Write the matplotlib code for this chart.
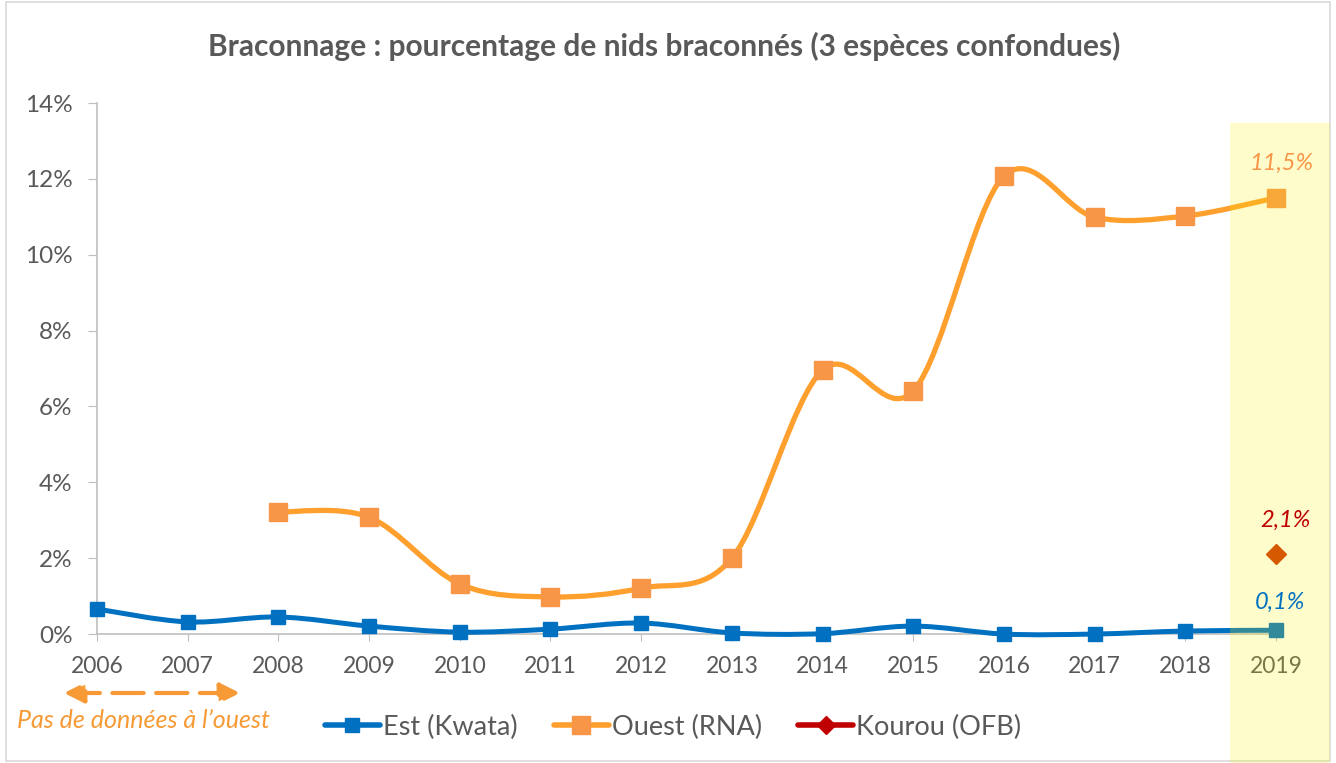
import numpy as np
import matplotlib
matplotlib.use('Agg')
import matplotlib.pyplot as plt
from matplotlib.path import Path
from matplotlib.patches import PathPatch, Rectangle, FancyArrowPatch
from matplotlib.lines import Line2D

plt.rcParams['font.family'] = ['Lato', 'DejaVu Sans']

# données (%)
annees = list(range(2006, 2020))
est_kwata = [0.66, 0.32, 0.45, 0.21, 0.05, 0.13, 0.29, 0.03, 0.01, 0.21, 0.0, 0.0, 0.08, 0.1]
annees_ouest = list(range(2008, 2020))
ouest_rna = [3.22, 3.08, 1.32, 0.98, 1.21, 2.0, 6.96, 6.41, 12.07, 10.99, 11.02, 11.5]
annee_kourou = [2019]
kourou_ofb = [2.1]

gris = '#595959'
bleu = '#0070C0'
orange_ligne = '#FF9F2E'
orange_marq = '#F79646'
rouge = '#C00000'


def courbe_lissee(xs, ys):
    # lissage type Excel (Bezier à partir de Catmull-Rom)
    pts = np.column_stack([xs, ys]).astype(float)
    n = len(pts)
    verts = [pts[0]]
    codes = [Path.MOVETO]
    for i in range(n - 1):
        p0 = pts[i - 1] if i > 0 else pts[i]
        p1 = pts[i]
        p2 = pts[i + 1]
        p3 = pts[i + 2] if i + 2 < n else pts[i + 1]
        c1 = p1 + (p2 - p0) / 6
        c2 = p2 - (p3 - p1) / 6
        verts += [c1, c2, p2]
        codes += [Path.CURVE4] * 3
    return Path(verts, codes)


fig = plt.figure(figsize=(13.36, 7.63), dpi=100)
ax = fig.add_axes([0.0726, 0.169, 0.8825, 0.696])

ax.add_patch(PathPatch(courbe_lissee(annees, est_kwata), fill=False, edgecolor=bleu,
                       lw=3.6, capstyle='round', joinstyle='round', zorder=3, clip_on=False))
ax.plot(annees, est_kwata, ls='none', marker='s', ms=10, color=bleu, zorder=4, clip_on=False)

ax.add_patch(PathPatch(courbe_lissee(annees_ouest, ouest_rna), fill=False, edgecolor=orange_ligne,
                       lw=3.8, capstyle='round', joinstyle='round', zorder=3, clip_on=False))
ax.plot(annees_ouest, ouest_rna, ls='none', marker='s', ms=13, color=orange_marq, zorder=4, clip_on=False)

ax.plot(annee_kourou, kourou_ofb, ls='none', marker='D', ms=10, color='#CC3300', zorder=4, clip_on=False)

ax.set_xlim(2006, 2019)
ax.set_ylim(0, 14)
ax.set_xticks(annees)
ax.set_yticks(range(0, 15, 2))
ax.set_yticklabels([f'{v}%' for v in range(0, 15, 2)])
ax.tick_params(axis='both', colors='#BFBFBF', labelcolor=gris)
ax.tick_params(axis='x', length=5, pad=11, labelsize=16.5)
ax.tick_params(axis='y', length=6.5, pad=11, labelsize=17.5)
for side in ['top', 'right']:
    ax.spines[side].set_visible(False)
for side in ['left', 'bottom']:
    ax.spines[side].set_color('#BFBFBF')
    ax.spines[side].set_linewidth(1.2)

# étiquettes de données 2019 (au-dessus de la zone surlignée)
fig.text(annees_ouest[-1] + 0.066, ouest_rna[-1] + 0.92, '11,5%', color=orange_marq, style='italic',
         fontsize=17, ha='center', va='center', transform=ax.transData, zorder=11)
fig.text(annee_kourou[0] + 0.1, kourou_ofb[0] + 0.9, '2,1%', color=rouge, style='italic',
         fontsize=17, ha='center', va='center', transform=ax.transData, zorder=11)
fig.text(annees[-1] + 0.045, est_kwata[-1] + 0.74, '0,1%', color=bleu, style='italic',
         fontsize=17, ha='center', va='center', transform=ax.transData, zorder=11)

fig.text(0.497, 1 - 46 / 763, 'Braconnage : pourcentage de nids braconnés (3 espèces confondues)',
         ha='center', va='center', fontsize=21.5, fontweight='bold', color=gris)

# zone 2019 surlignée
fig.add_artist(Rectangle((1230 / 1336, 0), 100 / 1336, 1 - 123 / 763, transform=fig.transFigure,
                         facecolor='#FFF200', alpha=0.2, edgecolor='none', zorder=10))

# flèche en pointillés + note
fig.add_artist(FancyArrowPatch((64 / 1336, 1 - 693 / 763), (240 / 1336, 1 - 693 / 763),
                               transform=fig.transFigure, arrowstyle='<|-|>,head_length=12,head_width=6',
                               linestyle=(0, (7.5, 3)), color='#F79A35', lw=3, mutation_scale=1,
                               shrinkA=0, shrinkB=0))
fig.text(17 / 1336, 1 - 720 / 763, 'Pas de données à l’ouest', color='#F79A35', style='italic',
         fontsize=18, ha='left', va='center')

poignees = [
    Line2D([], [], color=bleu, lw=4, marker='s', ms=10, solid_capstyle='round'),
    Line2D([], [], color=orange_ligne, lw=4, marker='s', ms=13, markerfacecolor=orange_marq,
           markeredgecolor=orange_marq, solid_capstyle='round'),
    Line2D([], [], color=rouge, lw=4, marker='D', ms=9, solid_capstyle='round'),
]
fig.legend(poignees, ['Est (Kwata)', 'Ouest (RNA)', 'Kourou (OFB)'], loc='center',
           bbox_to_anchor=(673 / 1336, 1 - 727 / 763), ncol=3, frameon=False, fontsize=19.5,
           labelcolor=gris, handlelength=2.05, handletextpad=0.1, columnspacing=1.33,
           borderpad=0, borderaxespad=0)

fig.add_artist(Rectangle((6 / 1336, 0.002), 1324 / 1336, 0.995, transform=fig.transFigure,
                         fill=False, edgecolor='#D9D9D9', lw=1.2))

fig.savefig('out.png', dpi=100)
